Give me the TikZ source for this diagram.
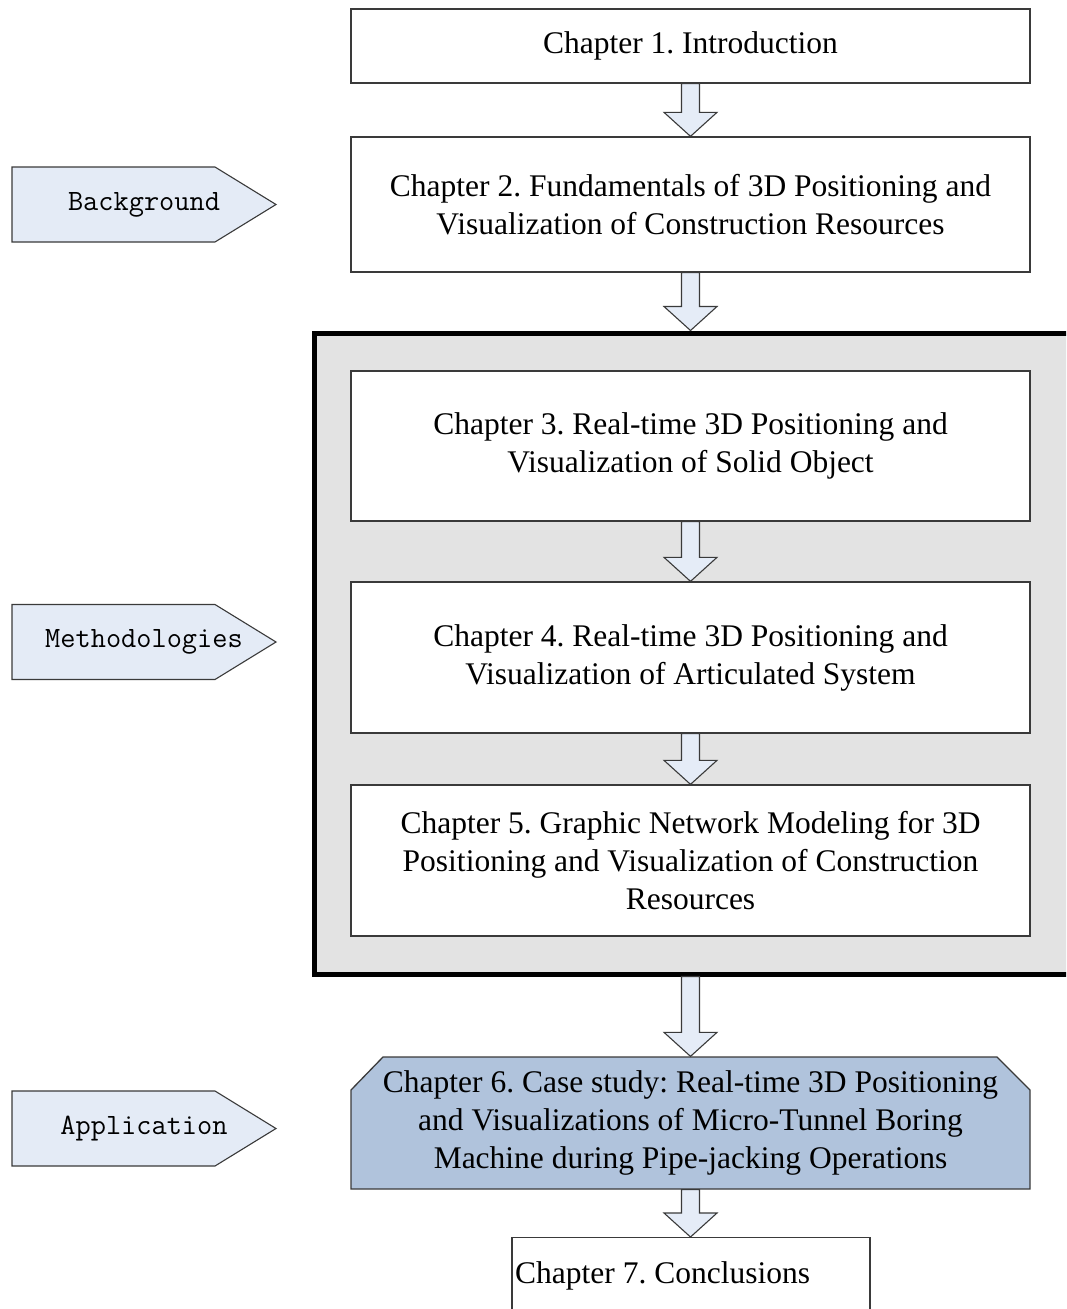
\documentclass[tikz,border=0pt]{standalone}
\usepackage{fontspec}
\setmainfont{Liberation Serif}
\usetikzlibrary{calc}
\frenchspacing

\definecolor{edgegray}{HTML}{3A3A3A}
\definecolor{flowfill}{HTML}{E5ECF7}
\definecolor{tagfill}{HTML}{E4EBF6}
\definecolor{casefill}{HTML}{B0C3DC}
\definecolor{groupfill}{HTML}{E3E3E3}

% hollow block arrow from one node anchor down to another
\newcommand\flowarrow[2]{%
  \filldraw[flowarrowstyle] let \p1=(#1), \p2=(#2) in
    (\x1-9pt,\y1) -- (\x1-9pt,\y2+24pt) -- (\x1-26.5pt,\y2+24pt) --
    (\x1,\y2) -- (\x1+26.5pt,\y2+24pt) -- (\x1+9pt,\y2+24pt) --
    (\x1+9pt,\y1) -- cycle;}

% pointed side label: name, vertical centre, text
\newcommand\sidetag[3]{%
  \filldraw[tagshape] (12,#2-37.5) -- (215,#2-37.5) -- (276,#2) --
    (215,#2+37.5) -- (12,#2+37.5) -- cycle;
  \node[tagtext] (#1) at (144,#2) {#3};}

\begin{document}
\begin{tikzpicture}[x=1pt,y=-1pt,
  chapterbox/.style={draw=edgegray, line width=1.3pt, fill=white,
    minimum width=679pt, align=center, inner sep=0pt,
    font=\fontsize{31.5}{38}\selectfont},
  flowarrowstyle/.style={draw=edgegray, line width=1.1pt, fill=flowfill},
  tagshape/.style={draw=edgegray, line width=1.1pt, fill=tagfill},
  tagtext/.style={font=\ttfamily\fontsize{29.5}{32}\selectfont, inner sep=0pt},
  groupbox/.style={draw=black, line width=5pt, fill=groupfill,
    minimum width=766pt, minimum height=641pt, inner sep=0pt}]

\path[use as bounding box] (0,0) rectangle (1066,1309);
\clip (0,0) rectangle (1066,1309);

% side labels
\sidetag{tagbg}{204.5}{Background}
\sidetag{tagmeth}{642}{Methodologies}
\sidetag{tagapp}{1128.5}{Application}

% grouped methodology chapters
\node[groupbox] (grp) at (697,653.5) {};

% chapters
\node[chapterbox, minimum height=74pt] (c1) at (690.5,46)
  {Chapter 1. Introduction};
\node[chapterbox, minimum height=135pt] (c2) at (690.5,204.5)
  {Chapter 2. Fundamentals of 3D Positioning and\\
   Visualization of Construction Resources};
\node[chapterbox, minimum height=150pt] (c3) at (690.5,446)
  {Chapter 3. Real-time 3D Positioning and\\
   Visualization of Solid Object};
\node[chapterbox, minimum height=151pt] (c4) at (690.5,657.5)
  {Chapter 4. Real-time 3D Positioning and\\
   Visualization of Articulated System};
\node[chapterbox, minimum height=151pt] (c5) at (690.5,860.5)
  {Chapter 5. Graphic Network Modeling for 3D\\
   Positioning and Visualization of Construction\\
   Resources};

% case study chapter with cut top corners
\filldraw[draw=edgegray, line width=1.3pt, fill=casefill]
  (351,1189) -- (351,1090) -- (383,1057) -- (997,1057) -- (1030,1090) --
  (1030,1189) -- cycle;
\node[chapterbox, draw=none, fill=none, minimum height=132pt] (c6)
  at (690.5,1123)
  {Chapter 6. Case study: Real-time 3D Positioning\\
   and Visualizations of Micro-Tunnel Boring\\
   Machine during Pipe-jacking Operations};

% conclusions chapter, text set at its left edge
\node[chapterbox, minimum width=358pt, minimum height=100pt, anchor=north]
  (c7) at (691,1237) {};
\node[anchor=base west, inner sep=0pt, font=\fontsize{31.5}{38}\selectfont]
  (c7text) at (515,1283) {Chapter 7. Conclusions};

% flow between chapters
\flowarrow{c1.south}{c2.north}
\flowarrow{c2.south}{c2.south |- grp.north}
\flowarrow{c3.south}{c4.north}
\flowarrow{c4.south}{c5.north}
\flowarrow{c5.south |- grp.south}{c6.north}
\flowarrow{c6.south}{c7.north}

\end{tikzpicture}
\end{document}
